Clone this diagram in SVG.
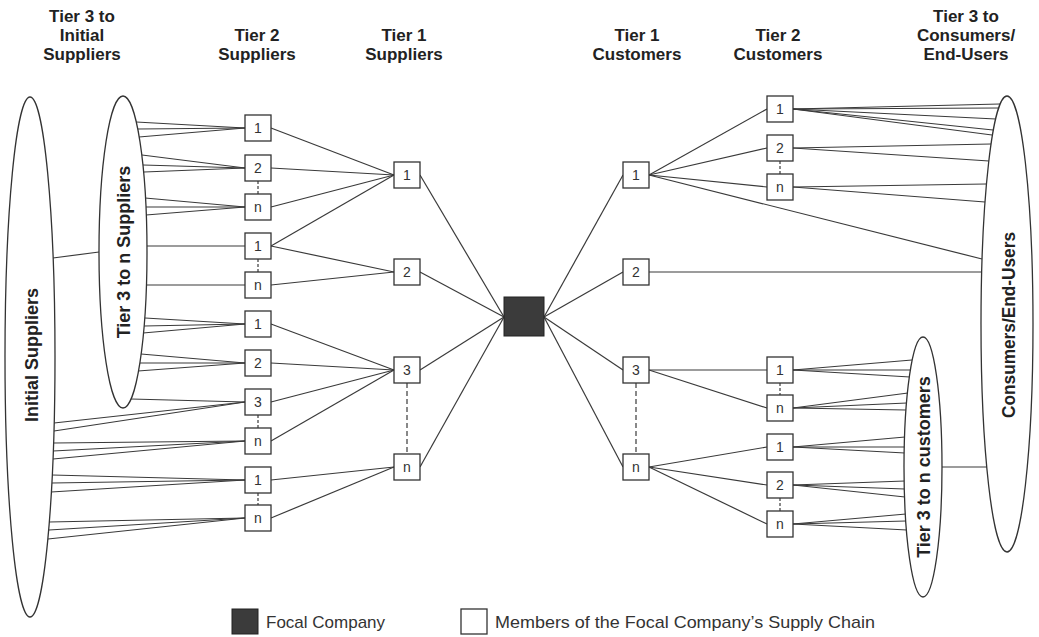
<svg xmlns="http://www.w3.org/2000/svg" width="1039" height="637" viewBox="0 0 1039 637">
<style>
.hdr{font-family:"Liberation Sans",Arial,sans-serif;font-weight:bold;font-size:17px;fill:#222;text-anchor:middle}
.lbl{font-family:"Liberation Sans",Arial,sans-serif;font-weight:bold;font-size:18px;fill:#222;text-anchor:middle}
.num{font-family:"Liberation Sans",Arial,sans-serif;font-size:14px;fill:#333;text-anchor:middle}
.leg{font-family:"Liberation Sans",Arial,sans-serif;font-size:17px;fill:#333}
.box{fill:#fff;stroke:#333;stroke-width:1.3}
.ell{fill:#fff;stroke:#333;stroke-width:1.3}
.c line{stroke:#3a3a3a;stroke-width:1.2;fill:none}
.c line.d{stroke-dasharray:3,2}
.c line.dl{stroke-dasharray:5,3}
</style>
<rect width="1039" height="637" fill="#fff"/>

<g id="headers">
<text class="hdr" x="82" y="22">Tier 3 to</text>
<text class="hdr" x="82" y="41">Initial</text>
<text class="hdr" x="82" y="60">Suppliers</text>
<text class="hdr" x="257" y="41">Tier 2</text>
<text class="hdr" x="257" y="60">Suppliers</text>
<text class="hdr" x="404" y="41">Tier 1</text>
<text class="hdr" x="404" y="60">Suppliers</text>
<text class="hdr" x="637" y="41">Tier 1</text>
<text class="hdr" x="637" y="60">Customers</text>
<text class="hdr" x="778" y="41">Tier 2</text>
<text class="hdr" x="778" y="60">Customers</text>
<text class="hdr" x="966" y="22">Tier 3 to</text>
<text class="hdr" x="966" y="41">Consumers/</text>
<text class="hdr" x="966" y="60">End-Users</text>
</g>

<g id="connectors" class="c">
<!-- initial to tier3 suppliers -->
<line x1="53" y1="258" x2="99" y2="252"/>
<!-- tier3 suppliers fans -->
<line x1="136" y1="122" x2="245" y2="128"/>
<line x1="138" y1="129" x2="245" y2="128"/>
<line x1="139" y1="137" x2="245" y2="128"/>
<line x1="142" y1="155" x2="245" y2="168"/>
<line x1="143" y1="165" x2="245" y2="168"/>
<line x1="144" y1="172" x2="245" y2="168"/>
<line x1="145" y1="198" x2="245" y2="207"/>
<line x1="146" y1="207" x2="245" y2="207"/>
<line x1="146" y1="215" x2="245" y2="207"/>
<line x1="147" y1="246" x2="245" y2="246"/>
<line x1="146" y1="285" x2="245" y2="285"/>
<line x1="145" y1="318" x2="245" y2="324"/>
<line x1="144" y1="326" x2="245" y2="324"/>
<line x1="143" y1="333" x2="245" y2="324"/>
<line x1="141" y1="354" x2="245" y2="363"/>
<line x1="140" y1="363" x2="245" y2="363"/>
<line x1="138" y1="371" x2="245" y2="363"/>
<line x1="131" y1="399" x2="245" y2="402"/>
<!-- initial suppliers fans -->
<line x1="54" y1="423" x2="245" y2="402"/>
<line x1="54" y1="431" x2="245" y2="402"/>
<line x1="54" y1="443" x2="245" y2="441"/>
<line x1="53" y1="451" x2="245" y2="441"/>
<line x1="53" y1="459" x2="245" y2="441"/>
<line x1="52" y1="475" x2="245" y2="480"/>
<line x1="52" y1="483" x2="245" y2="480"/>
<line x1="51" y1="492" x2="245" y2="480"/>
<line x1="49" y1="522" x2="245" y2="518"/>
<line x1="49" y1="530" x2="245" y2="518"/>
<line x1="48" y1="539" x2="245" y2="518"/>
<!-- tier2 dashed -->
<line class="d" x1="258" y1="181" x2="258" y2="194"/>
<line class="d" x1="258" y1="259" x2="258" y2="272"/>
<line class="d" x1="258" y1="415" x2="258" y2="428"/>
<line class="d" x1="258" y1="493" x2="258" y2="505"/>
<!-- tier2 to tier1 suppliers -->
<line x1="271" y1="128" x2="394" y2="175"/>
<line x1="271" y1="168" x2="394" y2="175"/>
<line x1="271" y1="207" x2="394" y2="175"/>
<line x1="271" y1="246" x2="394" y2="175"/>
<line x1="271" y1="246" x2="394" y2="272"/>
<line x1="271" y1="285" x2="394" y2="272"/>
<line x1="271" y1="324" x2="394" y2="370"/>
<line x1="271" y1="363" x2="394" y2="370"/>
<line x1="271" y1="402" x2="394" y2="370"/>
<line x1="271" y1="441" x2="394" y2="370"/>
<line x1="271" y1="480" x2="394" y2="467"/>
<line x1="271" y1="518" x2="394" y2="467"/>
<line class="dl" x1="407" y1="383" x2="407" y2="454"/>
<!-- tier1 suppliers to focal -->
<line x1="420" y1="175" x2="504" y2="317"/>
<line x1="420" y1="272" x2="504" y2="317"/>
<line x1="420" y1="370" x2="504" y2="317"/>
<line x1="420" y1="467" x2="504" y2="317"/>
<!-- focal to tier1 customers -->
<line x1="544" y1="317" x2="623" y2="175"/>
<line x1="544" y1="317" x2="623" y2="272"/>
<line x1="544" y1="317" x2="623" y2="370"/>
<line x1="544" y1="317" x2="623" y2="467"/>
<line class="dl" x1="636" y1="383" x2="636" y2="454"/>
<!-- tier1 customers to tier2 customers -->
<line x1="649" y1="175" x2="767" y2="109"/>
<line x1="649" y1="175" x2="767" y2="148"/>
<line x1="649" y1="175" x2="767" y2="187"/>
<line x1="649" y1="175" x2="982" y2="259"/>
<line x1="649" y1="272" x2="982" y2="272"/>
<line x1="649" y1="370" x2="767" y2="370"/>
<line x1="649" y1="370" x2="767" y2="408"/>
<line x1="649" y1="467" x2="767" y2="447"/>
<line x1="649" y1="467" x2="767" y2="485"/>
<line x1="649" y1="467" x2="767" y2="524"/>
<!-- tier2 customers dashed -->
<line class="d" x1="780" y1="161" x2="780" y2="174"/>
<line class="d" x1="780" y1="383" x2="780" y2="395"/>
<line class="d" x1="780" y1="498" x2="780" y2="511"/>
<!-- tier2 customers to consumers -->
<line x1="793" y1="109" x2="1000" y2="104"/>
<line x1="793" y1="109" x2="999" y2="108"/>
<line x1="793" y1="109" x2="996" y2="119"/>
<line x1="793" y1="109" x2="993" y2="130"/>
<line x1="793" y1="109" x2="992" y2="135"/>
<line x1="793" y1="148" x2="991" y2="144"/>
<line x1="793" y1="148" x2="989" y2="161"/>
<line x1="793" y1="187" x2="986" y2="184"/>
<line x1="793" y1="187" x2="985" y2="202"/>
<!-- tier2 customers to tier3 customers -->
<line x1="793" y1="370" x2="912" y2="360"/>
<line x1="793" y1="370" x2="911" y2="370"/>
<line x1="793" y1="370" x2="910" y2="377"/>
<line x1="793" y1="408" x2="908" y2="393"/>
<line x1="793" y1="408" x2="907" y2="403"/>
<line x1="793" y1="408" x2="906" y2="410"/>
<line x1="793" y1="447" x2="905" y2="437"/>
<line x1="793" y1="447" x2="905" y2="447"/>
<line x1="793" y1="447" x2="905" y2="453"/>
<line x1="793" y1="485" x2="905" y2="481"/>
<line x1="793" y1="485" x2="905" y2="489"/>
<line x1="793" y1="485" x2="905" y2="497"/>
<line x1="793" y1="524" x2="906" y2="514"/>
<line x1="793" y1="524" x2="906" y2="521"/>
<line x1="793" y1="524" x2="907" y2="530"/>
<!-- tier3 customers to consumers -->
<line x1="942" y1="467" x2="987" y2="467"/>
</g>

<g id="initial-suppliers">
<ellipse class="ell" cx="30" cy="357" rx="25" ry="260"/>
<text class="lbl" transform="translate(38,355) rotate(-90)">Initial Suppliers</text>
</g>
<g id="tier3-suppliers">
<ellipse class="ell" cx="123" cy="252" rx="24" ry="156"/>
<text class="lbl" transform="translate(130,252) rotate(-90)">Tier 3 to n Suppliers</text>
</g>

<g id="s2-1a"><rect class="box" x="245" y="115" width="26" height="26"/><text class="num" x="258" y="133">1</text></g>
<g id="s2-2a"><rect class="box" x="245" y="155" width="26" height="26"/><text class="num" x="258" y="173">2</text></g>
<g id="s2-na"><rect class="box" x="245" y="194" width="26" height="26"/><text class="num" x="258" y="212">n</text></g>
<g id="s2-1b"><rect class="box" x="245" y="233" width="26" height="26"/><text class="num" x="258" y="251">1</text></g>
<g id="s2-nb"><rect class="box" x="245" y="272" width="26" height="26"/><text class="num" x="258" y="290">n</text></g>
<g id="s2-1c"><rect class="box" x="245" y="311" width="26" height="26"/><text class="num" x="258" y="329">1</text></g>
<g id="s2-2c"><rect class="box" x="245" y="350" width="26" height="26"/><text class="num" x="258" y="368">2</text></g>
<g id="s2-3c"><rect class="box" x="245" y="389" width="26" height="26"/><text class="num" x="258" y="407">3</text></g>
<g id="s2-nc"><rect class="box" x="245" y="428" width="26" height="26"/><text class="num" x="258" y="446">n</text></g>
<g id="s2-1d"><rect class="box" x="245" y="467" width="26" height="26"/><text class="num" x="258" y="485">1</text></g>
<g id="s2-nd"><rect class="box" x="245" y="505" width="26" height="26"/><text class="num" x="258" y="523">n</text></g>

<g id="s1-1"><rect class="box" x="394" y="162" width="26" height="26"/><text class="num" x="407" y="180">1</text></g>
<g id="s1-2"><rect class="box" x="394" y="259" width="26" height="26"/><text class="num" x="407" y="277">2</text></g>
<g id="s1-3"><rect class="box" x="394" y="357" width="26" height="26"/><text class="num" x="407" y="375">3</text></g>
<g id="s1-n"><rect class="box" x="394" y="454" width="26" height="26"/><text class="num" x="407" y="472">n</text></g>

<g id="focal"><rect x="504" y="297" width="40" height="39" fill="#3b3b3b" stroke="#222" stroke-width="1"/></g>

<g id="c1-1"><rect class="box" x="623" y="162" width="26" height="26"/><text class="num" x="636" y="180">1</text></g>
<g id="c1-2"><rect class="box" x="623" y="259" width="26" height="26"/><text class="num" x="636" y="277">2</text></g>
<g id="c1-3"><rect class="box" x="623" y="357" width="26" height="26"/><text class="num" x="636" y="375">3</text></g>
<g id="c1-n"><rect class="box" x="623" y="454" width="26" height="26"/><text class="num" x="636" y="472">n</text></g>

<g id="c2-1a"><rect class="box" x="767" y="96" width="26" height="26"/><text class="num" x="780" y="114">1</text></g>
<g id="c2-2a"><rect class="box" x="767" y="135" width="26" height="26"/><text class="num" x="780" y="153">2</text></g>
<g id="c2-na"><rect class="box" x="767" y="174" width="26" height="26"/><text class="num" x="780" y="192">n</text></g>
<g id="c2-1b"><rect class="box" x="767" y="357" width="26" height="26"/><text class="num" x="780" y="375">1</text></g>
<g id="c2-nb"><rect class="box" x="767" y="395" width="26" height="26"/><text class="num" x="780" y="413">n</text></g>
<g id="c2-1c"><rect class="box" x="767" y="434" width="26" height="26"/><text class="num" x="780" y="452">1</text></g>
<g id="c2-2c"><rect class="box" x="767" y="472" width="26" height="26"/><text class="num" x="780" y="490">2</text></g>
<g id="c2-nc"><rect class="box" x="767" y="511" width="26" height="26"/><text class="num" x="780" y="529">n</text></g>

<g id="tier3-customers">
<ellipse class="ell" cx="923" cy="467" rx="19" ry="130"/>
<text class="lbl" transform="translate(930,467) rotate(-90)">Tier 3 to n customers</text>
</g>
<g id="consumers">
<ellipse class="ell" cx="1007" cy="324" rx="26" ry="228"/>
<text class="lbl" transform="translate(1015,325) rotate(-90)" textLength="186" lengthAdjust="spacingAndGlyphs">Consumers/End-Users</text>
</g>

<g id="legend">
<rect x="232" y="609" width="26" height="25" fill="#3b3b3b" stroke="#222"/>
<text class="leg" x="266" y="628">Focal Company</text>
<rect x="461" y="609" width="26" height="25" fill="#fff" stroke="#333" stroke-width="1.3"/>
<text class="leg" x="495" y="628" textLength="380" lengthAdjust="spacingAndGlyphs">Members of the Focal Company’s Supply Chain</text>
</g>
</svg>
